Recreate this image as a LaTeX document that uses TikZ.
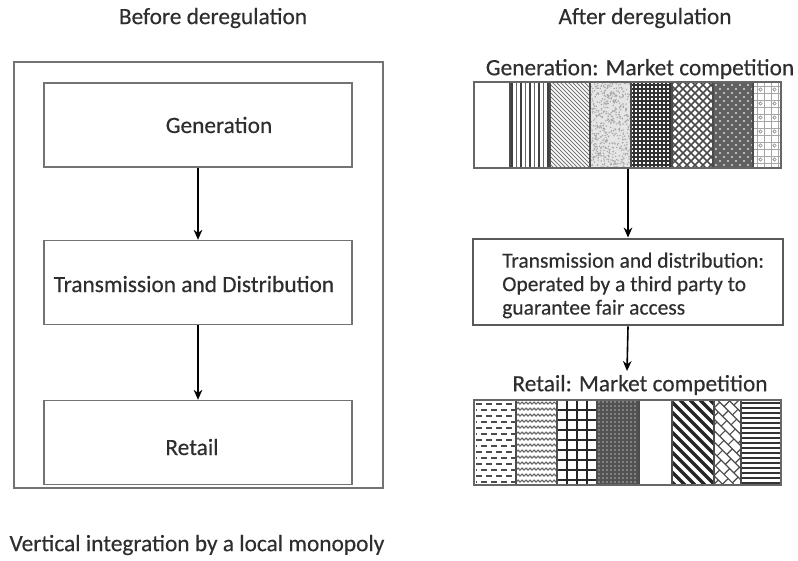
\documentclass[tikz,border=0pt]{standalone}
\usepackage{fontspec}
\setmainfont{Carlito}[FakeBold=0.35]
\usetikzlibrary{arrows.meta}
\begin{document}
\begin{tikzpicture}[x=0.75pt,y=-0.75pt,
  txt/.style={font=\fontsize{17.5}{17.6}\selectfont, text=black!82, inner sep=0pt},
  small/.style={font=\fontsize{16.1}{17.6}\selectfont},
  frame/.style={draw=black!55, line width=1.1pt},
  stage/.style={frame, fill=white, minimum width=231pt, minimum height=63pt, inner sep=0pt},
  arr/.style={line width=1.2pt, -{Stealth[length=7.5pt,width=6.5pt]}},
  strip/.style={draw=black!60, line width=1.1pt, minimum width=230.25pt, inner sep=0pt},
  sep/.style={draw=black!70, line width=0.9pt},
]
\useasboundingbox (0,0) rectangle (798,560);

% ---------------- left column: vertically integrated utility ----------------
\node[txt] (tleft) at (213,18) {Before deregulation};
\node[frame, minimum width=276.75pt, minimum height=319.5pt, inner sep=0pt] (outer) at (198.5,275) {};

\node[stage] (gen) at (198,125) {};
\node[stage] (td)  at (198,282.5) {};
\node[stage] (ret) at (198,442.5) {};
\node[txt] (genlab) at (219,125) {Generation};
\node[txt] (tdlab)  at (194,284) {Transmission and Distribution};
\node[txt] (retlab) at (192,447) {Retail};

\draw[arr] (gen.south) -- (td.north);
\draw[arr] (td.south) -- (ret.north);

\node[txt] (bottom) at (197,545) {Vertical integration by a local monopoly};

% ---------------- right column: deregulated market ----------------
\node[txt] (tright) at (645,18) {After deregulation};
\node[txt] (glab) at (640,69) {Generation: Market competition};
\node[txt] (rlab) at (640,385) {Retail: Market competition};

% generation strip fills (x 474..781, y 82..168)
\begin{scope}
  \clip (510,82) rectangle (550,168);
  \foreach \xx in {512,521,530,539,548} \draw[black!75, line width=1.2pt] (\xx,82) -- (\xx,168);
  \foreach \xx in {516.5,525.5,534.5,543.5} \draw[black!60, line width=0.6pt] (\xx,82) -- (\xx,168);
\end{scope}
\begin{scope}
  \clip (550,82) rectangle (590,168);
  \foreach \t in {460,464,...,592} \draw[black!55, line width=0.7pt] (\t,82) -- ++(86,86);
\end{scope}
\begin{scope}
  \clip (590,82) rectangle (631,168);
  \fill[black!10] (590,82) rectangle (631,168);
  \pgfmathsetseed{7}
  \foreach \i in {1,...,520} {
    \pgfmathsetmacro\rx{590.5+40*rnd}
    \pgfmathsetmacro\ry{82.5+85*rnd}
    \fill[black!35] (\rx,\ry) circle (0.6pt);
  }
\end{scope}
\begin{scope}
  \clip (631,82) rectangle (672,168);
  \foreach \xx in {634,638,...,671} \draw[black!80, line width=0.8pt] (\xx,82) -- (\xx,168);
  \foreach \yy in {85,89,...,168} \draw[black!80, line width=0.8pt] (631,\yy) -- (672,\yy);
\end{scope}
\begin{scope}
  \clip (672,82) rectangle (713,168);
  \foreach \t in {580,588,...,720} {
    \draw[black!70, line width=1.1pt] (\t,82) -- ++(86,86);
    \draw[black!70, line width=1.1pt] (\t,168) -- ++(86,-86);
  }
\end{scope}
\begin{scope}
  \clip (713,82) rectangle (753,168);
  \fill[black!62] (713,82) rectangle (753,168);
  \foreach \xx in {716,724,...,752} \foreach \yy in {85,93,...,168}
    \fill[black!15] (\xx,\yy) circle (0.8pt);
  \foreach \xx in {720,728,...,752} \foreach \yy in {89,97,...,168}
    \fill[black!15] (\xx,\yy) circle (0.8pt);
\end{scope}
\begin{scope}
  \clip (753,82) rectangle (781,168);
  \foreach \xx in {757,764,771,778} \draw[black!35, line width=0.7pt] (\xx,82) -- (\xx,168);
  \foreach \yy in {86,93,...,168} \draw[black!35, line width=0.7pt] (753,\yy) -- (781,\yy);
  \foreach \xx in {760.5,774.5} \foreach \yy in {89.5,103.5,...,168}
    \draw[black!45, fill=white, line width=0.5pt] (\xx,\yy) circle (1.3pt);
\end{scope}
\foreach \xx in {510,550,590,631,672,713,753} \draw[sep] (\xx,82) -- (\xx,168);
\node[strip, minimum height=64.5pt] (gstrip) at (627.5,125) {};

% transmission and distribution box
\node[draw=black!65, line width=2.2pt, fill=white, minimum width=232.5pt, minimum height=64.5pt, inner sep=0pt] (tdr) at (628,282) {};
\node[txt, small, anchor=west, align=left] (tdrlab) at (502,285.5)
  {Transmission and distribution:\\Operated by a third party to\\guarantee fair access};

\coordinate (rtip) at (627,371);
\draw[arr] (gstrip.south -| tdr.north) -- (tdr.north);
\draw[arr] (tdr.south) -- (rtip);

% retail strip fills (x 474..781, y 400..485)
\begin{scope}
  \clip (474,400) rectangle (516,485);
  \foreach \yy in {404,416,...,484} \draw[black!70, line width=1.1pt, dash pattern=on 4.5pt off 3pt] (476,\yy) -- (516,\yy);
  \foreach \yy in {410,422,...,484} \draw[black!70, line width=1.1pt, dash pattern=on 4.5pt off 3pt, dash phase=3.75pt] (476,\yy) -- (516,\yy);
\end{scope}
\begin{scope}
  \clip (516,400) rectangle (557,485);
  \foreach \yy in {404,410,...,488}
    \draw[black!60, line width=0.8pt] (516,\yy) \foreach \k in {1,...,11} { -- ++(2,-2) -- ++(2,2)};
\end{scope}
\begin{scope}
  \clip (557,400) rectangle (597,485);
  \foreach \xx in {567,577,587} \draw[black!85, line width=1.3pt] (\xx,400) -- (\xx,485);
  \foreach \yy in {410,420,...,480} \draw[black!85, line width=1.3pt] (557,\yy) -- (597,\yy);
\end{scope}
\begin{scope}
  \clip (597,400) rectangle (639,485);
  \fill[black!68] (597,400) rectangle (639,485);
  \foreach \xx in {599,603,...,639} \foreach \yy in {402,406,...,485}
    \fill[black!30] (\xx,\yy) circle (0.6pt);
\end{scope}
\begin{scope}
  \clip (672,400) rectangle (714,485);
  \foreach \t in {580,590,...,720} \draw[black!85, line width=2.4pt] (\t,400) -- ++(85,85);
\end{scope}
\begin{scope}
  \clip (714,400) rectangle (741,485);
  \begin{scope}[shift={(727.5,442.5)}, rotate=-45]
    \foreach \yy in {-63,-55,...,64} \draw[black!70, line width=0.9pt] (-70,\yy) -- (70,\yy);
    \foreach \yy [count=\k] in {-63,-55,...,56} {
      \pgfmathsetmacro\off{mod(\k,2)*6}
      \foreach \xx in {-70,-58,...,70} \draw[black!70, line width=0.9pt] (\xx+\off,\yy) -- (\xx+\off,\yy+8);
    }
  \end{scope}
\end{scope}
\begin{scope}
  \clip (741,400) rectangle (781,485);
  \foreach \yy in {403,408,...,484} \draw[black!80, line width=1pt] (741,\yy) -- (781,\yy);
\end{scope}
\foreach \xx in {516,557,597,639,672,714,741} \draw[sep] (\xx,400) -- (\xx,485);
\node[strip, minimum height=63.75pt] (rstrip) at (627.5,442.5) {};

\end{tikzpicture}
\end{document}
